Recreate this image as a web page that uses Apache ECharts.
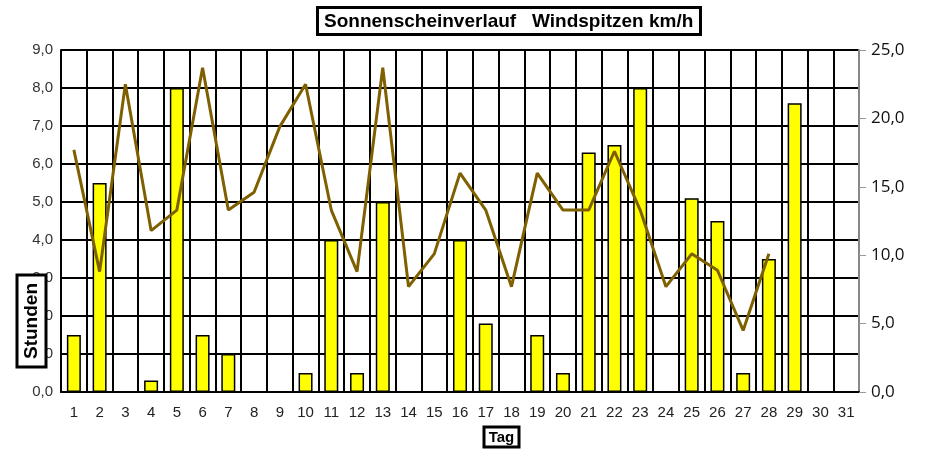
<!DOCTYPE html>
<html>
<head>
<meta charset="utf-8">
<script src="https://cdn.jsdelivr.net/npm/echarts@6/dist/echarts.min.js"></script>
<style>
html,body{margin:0;padding:0;background:#fff;}
#chart{width:926px;height:451px;}
</style>
</head>
<body>
<div id="chart"></div>
<script>
var days=[];
for(var d=1;d<=31;d++){ days.push(String(d)); }
// Sonnenstunden (linke Achse)
var sonne=[1.5,5.5,0,0.3,8.0,1.5,1.0,0,0,0.5,4.0,0.5,5.0,0,0,4.0,1.8,0,1.5,0.5,6.3,6.5,8.0,0,5.1,4.5,0.5,3.5,7.6,0,0];
// Windspitzen km/h (rechte Achse)
var wind=[17.7,8.8,22.5,11.8,13.3,23.7,13.3,14.6,19.4,22.5,13.3,8.8,23.7,7.7,10.1,16.0,13.3,7.7,16.0,13.3,13.3,17.6,13.3,7.7,10.1,8.9,4.5,10.1,null,null,null];

function komma(v){ return v.toFixed(1).replace('.',','); }

var myChart=echarts.init(document.getElementById('chart'));
var option={
	animation:false,
	title:{
		text:'Sonnenscheinverlauf   Windspitzen km/h',
		left:317,
		top:7,
		padding:[5,7,4,7],
		borderWidth:3,
		borderColor:'#000',
		textStyle:{fontFamily:'Liberation Sans',fontSize:19,fontWeight:'bold',color:'#000'}
	},
	grid:{left:61,right:67,top:50,bottom:59},
	xAxis:{
		type:'category',
		data:days,
		boundaryGap:true,
		axisLine:{lineStyle:{color:'#000',width:2}},
		axisTick:{show:false},
		axisLabel:{color:'#222',fontFamily:'Liberation Sans',fontSize:15,margin:13,interval:0},
		splitLine:{show:true,interval:0,lineStyle:{color:'#000',width:2}}
	},
	yAxis:[
		{
			type:'value',min:0,max:9,interval:1,
			axisLine:{show:true,lineStyle:{color:'#000',width:2}},
			axisTick:{show:false},
			axisLabel:{color:'#333',fontFamily:'Liberation Sans',fontSize:15,margin:8,formatter:komma},
			splitLine:{show:true,lineStyle:{color:'#000',width:2}}
		},
		{
			type:'value',min:0,max:25,interval:5,position:'right',
			axisLine:{show:true,lineStyle:{color:'#888',width:2}},
			axisTick:{show:true,length:7,lineStyle:{color:'#999'}},
			axisLabel:{color:'#111',fontFamily:'Open Sans',fontSize:17,margin:12,formatter:komma},
			splitLine:{show:false}
		}
	],
	series:[
		{
			name:'Sonne',
			type:'bar',
			data:sonne,
			barWidth:14,
			itemStyle:{color:'#ffff00',borderColor:'#000',borderWidth:1.5},
			z:3
		},
		{
			name:'Wind',
			type:'line',
			yAxisIndex:1,
			data:wind,
			symbol:'none',
			connectNulls:false,
			lineStyle:{color:'#7f6000',width:3},
			z:4
		}
	],
	graphic:[
		{
			type:'rect',
			shape:{x:17,y:275,width:29,height:92},
			style:{fill:'#fff',stroke:'#000',lineWidth:3},
			z:10
		},
		{
			type:'text',
			x:31.5,y:321,rotation:Math.PI/2,
			style:{text:'Stunden',font:'bold 19px "Liberation Sans"',fill:'#000',align:'center',verticalAlign:'middle'},
			z:11
		},
		{
			type:'rect',
			shape:{x:484,y:427,width:35,height:20},
			style:{fill:'#fff',stroke:'#000',lineWidth:3},
			z:10
		},
		{
			type:'text',
			x:501.5,y:438,
			style:{text:'Tag',font:'bold 15px "Liberation Sans"',fill:'#000',align:'center',verticalAlign:'middle'},
			z:11
		}
	]
};
myChart.setOption(option);
</script>
</body>
</html>
